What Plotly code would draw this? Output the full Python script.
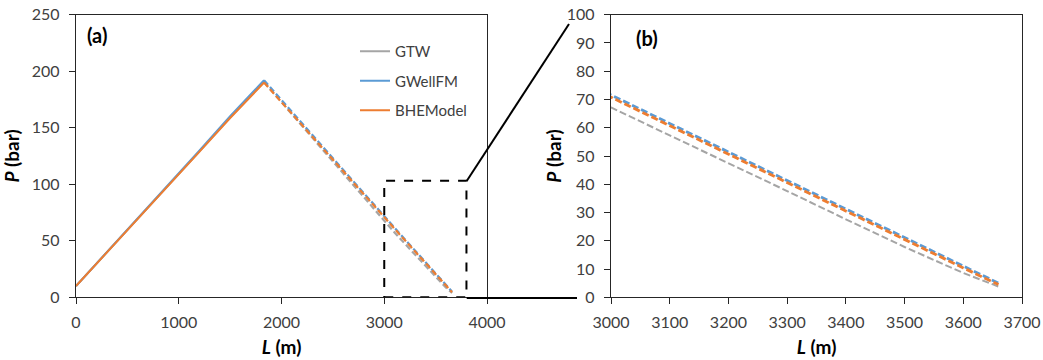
import plotly.graph_objects as go

# ---- data ----
L_up = [0, 300, 600, 900, 1200, 1500, 1830]
GTW_up = [10.0, 39.6, 69.2, 99.0, 129.0, 159.2, 190.5]
GWellFM_up = [10.0, 39.8, 69.6, 99.6, 129.8, 160.3, 192.0]
BHEModel_up = [10.0, 39.5, 69.0, 98.8, 128.6, 158.6, 190.0]

L_down = [1830, 2000, 2200, 2400, 2600, 2800, 3000, 3100, 3200, 3300, 3400, 3500, 3600, 3660]
GTW_down = [190.5, 172.6, 151.6, 130.5, 109.4, 88.3, 67.2, 57.3, 47.5, 37.6, 27.6, 17.8, 8.6, 3.8]
GWellFM_down = [192.0, 174.4, 153.9, 133.3, 112.8, 92.2, 71.6, 61.5, 51.4, 41.3, 31.2, 21.1, 11.0, 5.0]
BHEModel_down = [190.0, 172.6, 152.2, 131.8, 111.4, 91.1, 70.8, 60.7, 50.6, 40.6, 30.5, 20.5, 10.4, 4.5]

series = [
    ("GTW", "#A5A5A5", GTW_up, GTW_down, 2.0),
    ("GWellFM", "#5B9BD5", GWellFM_up, GWellFM_down, 2.8),
    ("BHEModel", "#ED7D31", BHEModel_up, BHEModel_down, 2.8),
]

W, H = 1043, 360
FONT = "Lato"
TICK_COLOR = "#404040"

def px_x(p):
    return p / W

def px_y(p):
    return 1 - p / H

fig = go.Figure()
for name, color, up, down, wb in series:
    # panel (a)
    fig.add_trace(go.Scatter(x=L_up, y=up, mode="lines", name=name, legendgroup=name,
                             line=dict(color=color, width=2), xaxis="x", yaxis="y"))
    fig.add_trace(go.Scatter(x=L_down, y=down, mode="lines", name=name, legendgroup=name,
                             showlegend=False,
                             line=dict(color=color, width=2.2, dash="6px,3px"), xaxis="x", yaxis="y"))
    # panel (b)
    fig.add_trace(go.Scatter(x=L_down, y=down, mode="lines", name=name, legendgroup=name,
                             showlegend=False,
                             line=dict(color=color, width=wb, dash="7px,3px"), xaxis="x2", yaxis="y2"))

dom_y = [px_y(297.3), px_y(14.7)]
axis_common = dict(showgrid=False, zeroline=False, showline=True, linecolor="#262626", linewidth=1.3,
                   mirror=True, ticks="outside", ticklen=6, tickcolor="#262626", tickwidth=1.3,
                   tickfont=dict(family=FONT, size=16, color=TICK_COLOR), automargin=False)

title_font = dict(family=FONT, size=19, color="black")

fig.update_layout(
    width=W, height=H,
    margin=dict(l=0, r=0, t=0, b=0),
    paper_bgcolor="white", plot_bgcolor="white",
    font=dict(family=FONT),
    showlegend=True,
    legend=dict(x=px_x(355), y=px_y(35), xanchor="left", yanchor="top",
                bgcolor="rgba(0,0,0,0)", borderwidth=0, tracegroupgap=7,
                font=dict(family=FONT, size=15, color=TICK_COLOR)),
    xaxis=dict(domain=[px_x(76), px_x(487)], range=[0, 4000], tickvals=[0, 1000, 2000, 3000, 4000],
               anchor="y", ticklabelstandoff=4,
               title=dict(text="<b><i>L</i> (m)</b>", font=title_font, standoff=11),
               **axis_common),
    yaxis=dict(domain=dom_y, range=[0, 250], tickvals=[0, 50, 100, 150, 200, 250],
               anchor="x", ticklabelstandoff=6,
               title=dict(text="<b><i>P</i> (bar)</b>", font=title_font, standoff=8),
               **axis_common),
    xaxis2=dict(domain=[px_x(611), px_x(1022)], range=[3000, 3700],
                tickvals=[3000, 3100, 3200, 3300, 3400, 3500, 3600, 3700],
                anchor="y2", ticklabelstandoff=4,
                title=dict(text="<b><i>L</i> (m)</b>", font=title_font, standoff=11),
                **axis_common),
    yaxis2=dict(domain=dom_y, range=[0, 100], tickvals=list(range(0, 101, 10)),
                anchor="x2", ticklabelstandoff=6,
                title=dict(text="<b><i>P</i> (bar)</b>", font=title_font, standoff=0),
                **axis_common),
)

# zoom rectangle in panel (a)
fig.add_shape(type="rect", xref="x", yref="y", x0=3000, x1=3800, y0=0, y1=103,
              line=dict(color="black", width=2, dash="dash"), layer="above")
# connector lines
fig.add_shape(type="line", xref="paper", yref="paper",
              x0=px_x(466.7), y0=px_y(181), x1=px_x(569), y1=px_y(24),
              line=dict(color="black", width=2))
fig.add_shape(type="line", xref="paper", yref="paper",
              x0=px_x(466.7), y0=px_y(298), x1=px_x(577), y1=px_y(298),
              line=dict(color="black", width=2))

# panel labels
fig.add_annotation(text="<b>(a)</b>", xref="paper", yref="paper", x=px_x(85), y=px_y(35),
                   xanchor="left", yanchor="middle", showarrow=False,
                   font=dict(family=FONT, size=20, color="black"))
fig.add_annotation(text="<b>(b)</b>", xref="paper", yref="paper", x=px_x(634), y=px_y(38),
                   xanchor="left", yanchor="middle", showarrow=False,
                   font=dict(family=FONT, size=20, color="black"))

fig.write_html("out.html")
